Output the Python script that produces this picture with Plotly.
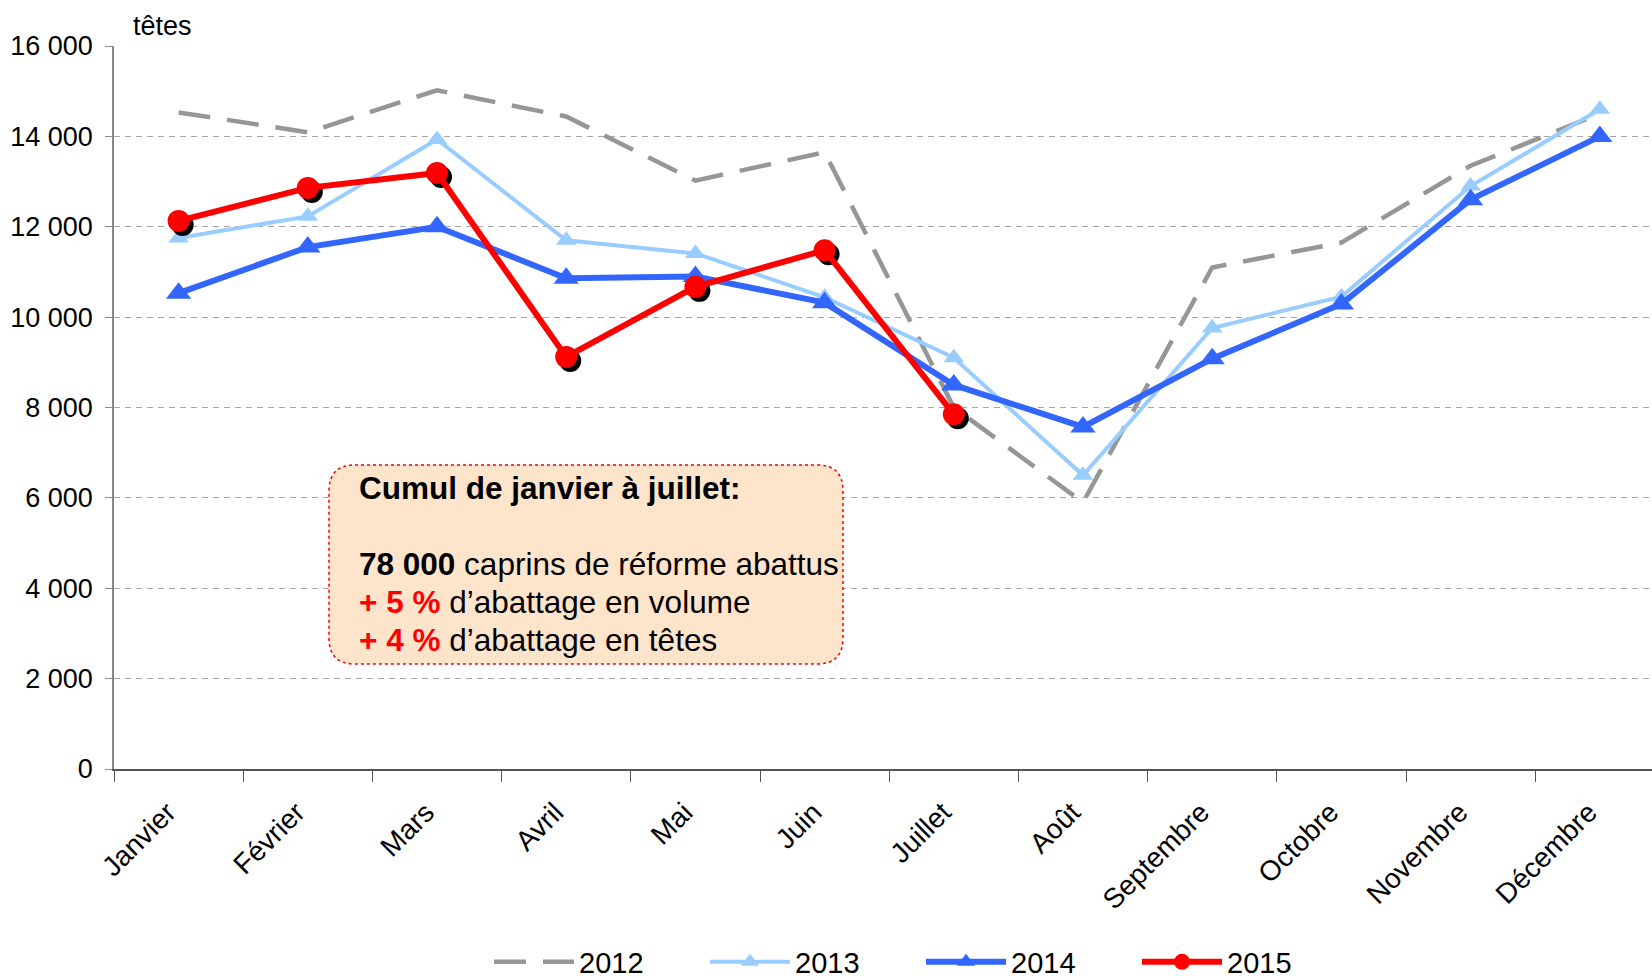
import plotly.graph_objects as go

# ---------------- data ----------------
months = ["Janvier", "Février", "Mars", "Avril", "Mai", "Juin", "Juillet",
          "Août", "Septembre", "Octobre", "Novembre", "Décembre"]
v2012 = [14530, 14090, 15020, 14440, 13020, 13650, 8000, 5900, 11100, 11650, 13350, 14500]
v2013 = [11750, 12230, 13930, 11700, 11410, 10440, 9100, 6500, 9760, 10450, 12900, 14600]
v2014 = [10530, 11550, 12000, 10860, 10900, 10320, 8500, 7570, 9080, 10290, 12600, 14000]
v2015 = [12130, 12860, 13190, 9120, 10670, 11480, 7850]
months_2015 = months[:7]
y_ticks = [0, 2000, 4000, 6000, 8000, 10000, 12000, 14000, 16000]

# ---------------- geometry ----------------
W, H = 1652, 978
ML, MR = 114, 0
MT = 46
BOTTOM = 769
MB = H - BOTTOM
PW, PH = W - ML - MR, BOTTOM - MT
CAT_PX = 129.2
x_range = [-0.5, -0.5 + PW / CAT_PX]
y_range = [0, 16000]
SH_X, SH_Y = 4, 4           # shadow offset in px
dx = SH_X / CAT_PX
dy = SH_Y * (y_range[1] - y_range[0]) / PH


def px2x(page_px):
    return (page_px - ML) / PW


def py2y(page_py):
    return (BOTTOM - page_py) / PH


FONT = "Liberation Sans, Arial, sans-serif"

fig = go.Figure()

fig.add_trace(go.Scatter(
    x=months, y=v2012, name="2012", mode="lines",
    line=dict(color="#969696", width=4.5, dash="32px,17px"),
    cliponaxis=False))
fig.add_trace(go.Scatter(
    x=months, y=v2013, name="2013", mode="lines+markers",
    line=dict(color="#99ccff", width=4),
    marker=dict(symbol="triangle-up", size=18, color="#99ccff"),
    cliponaxis=False))
fig.add_trace(go.Scatter(
    x=months, y=v2014, name="2014", mode="lines+markers",
    line=dict(color="#3366ff", width=6),
    marker=dict(symbol="triangle-up", size=22, color="#3366ff"),
    cliponaxis=False))
# shadow of the 2015 markers (same data, axes shifted by a few pixels)
fig.add_trace(go.Scatter(
    x=months_2015, y=v2015, name="2015 ombre", mode="markers", showlegend=False,
    marker=dict(symbol="circle", size=22, color="#000000"),
    xaxis="x2", yaxis="y2", cliponaxis=False, hoverinfo="skip"))
fig.add_trace(go.Scatter(
    x=months_2015, y=v2015, name="2015", mode="lines+markers",
    line=dict(color="#ff0000", width=6),
    marker=dict(symbol="circle", size=22, color="#ff0000"),
    xaxis="x3", yaxis="y3", cliponaxis=False))

# rounded box (page pixel coordinates)
x0, x1, y0, y1, r = 329, 843, 465, 664, 26
pts = [
    f"M {px2x(x0 + r)},{py2y(y0)}",
    f"L {px2x(x1 - r)},{py2y(y0)}",
    f"Q {px2x(x1)},{py2y(y0)} {px2x(x1)},{py2y(y0 + r)}",
    f"L {px2x(x1)},{py2y(y1 - r)}",
    f"Q {px2x(x1)},{py2y(y1)} {px2x(x1 - r)},{py2y(y1)}",
    f"L {px2x(x0 + r)},{py2y(y1)}",
    f"Q {px2x(x0)},{py2y(y1)} {px2x(x0)},{py2y(y1 - r)}",
    f"L {px2x(x0)},{py2y(y0 + r)}",
    f"Q {px2x(x0)},{py2y(y0)} {px2x(x0 + r)},{py2y(y0)}",
    "Z",
]
fig.add_shape(type="path", xref="paper", yref="paper", path=" ".join(pts),
              fillcolor="#fde4ca", line=dict(color="#ff0000", width=1.5, dash="dot"),
              layer="above")

box_lines = [
    ("<b>Cumul de janvier à juillet:</b>", 488),
    ("<b>78 000</b> caprins de réforme abattus", 564),
    ("<b><span style='color:#ff0000'>+ 5 %</span></b> d’abattage en volume", 602),
    ("<b><span style='color:#ff0000'>+ 4 %</span></b> d’abattage en têtes", 640),
]
for txt, ypx in box_lines:
    fig.add_annotation(text=txt, xref="paper", yref="paper", x=px2x(357), y=py2y(ypx),
                       xanchor="left", yanchor="middle", showarrow=False,
                       font=dict(family=FONT, size=31.5, color="#000000"))

fig.add_annotation(text="têtes", xref="paper", yref="paper", x=px2x(131), y=py2y(26),
                   xanchor="left", yanchor="middle", showarrow=False,
                   font=dict(family=FONT, size=27, color="#000000"))

common_x = dict(type="category", categoryorder="array", categoryarray=months)
fig.update_layout(
    width=W, height=H,
    margin=dict(l=ML, r=MR, t=MT, b=MB, pad=0, autoexpand=False),
    paper_bgcolor="white", plot_bgcolor="white",
    font=dict(family=FONT, color="#000000"),
    separators=", ",
    showlegend=True,
    legend=dict(orientation="h", x=px2x(489), y=py2y(962), xanchor="left", yanchor="middle",
                font=dict(family=FONT, size=29, color="#000000"),
                itemwidth=80, entrywidth=121, entrywidthmode="pixels",
                bgcolor="rgba(0,0,0,0)"),
    xaxis=dict(**common_x, range=x_range, tickson="boundaries", ticks="outside", ticklen=11,
               tickcolor="#555555", tickwidth=1, showline=True, linecolor="#555555", linewidth=1.5,
               showgrid=False, tickangle=-45, ticklabelstandoff=14, ticklabelshift=-11,
               automargin=False, tickfont=dict(family=FONT, size=28, color="#000000")),
    yaxis=dict(range=y_range, tickvals=y_ticks, tickformat=",d", ticks="outside", ticklen=7,
               tickcolor="#888888", showline=True, linecolor="#888888", linewidth=1.5,
               showgrid=True, gridcolor="#a6a6a6", gridwidth=1, griddash="6px,5px",
               zeroline=False, ticklabelstandoff=7, automargin=False,
               tickfont=dict(family=FONT, size=27, color="#000000")),
    xaxis2=dict(**common_x, range=[x_range[0] - dx, x_range[1] - dx], overlaying="x",
                visible=False),
    yaxis2=dict(range=[y_range[0] + dy, y_range[1] + dy], overlaying="y", visible=False),
    xaxis3=dict(**common_x, range=x_range, overlaying="x", visible=False),
    yaxis3=dict(range=y_range, overlaying="y", visible=False),
)

PAGE_CSS = ("document.documentElement.style.margin='0';"
            "document.documentElement.style.overflow='hidden';"
            "document.body.style.margin='0';"
            "document.body.style.overflow='hidden';")

fig.write_html("out.html", post_script=PAGE_CSS, config=dict(displayModeBar=False))
